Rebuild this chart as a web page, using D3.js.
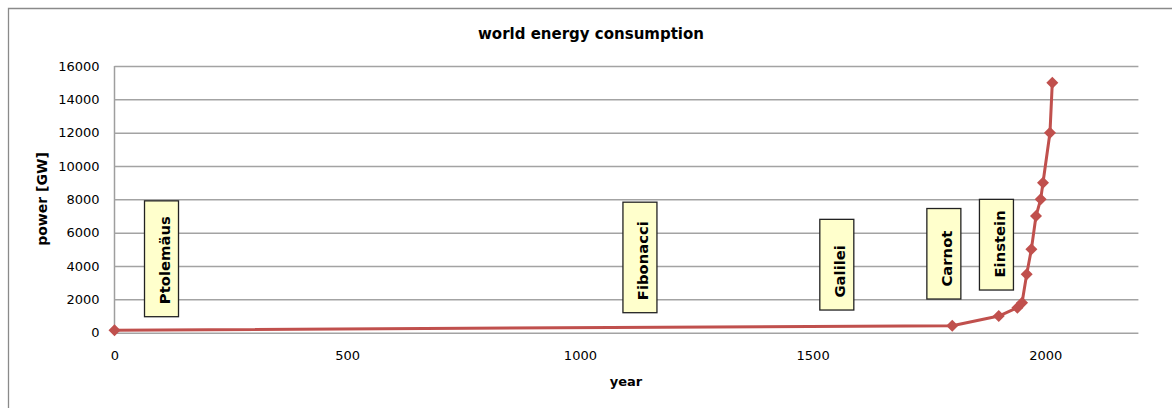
<!DOCTYPE html>
<html><head><meta charset="utf-8">
<script src="https://cdn.jsdelivr.net/npm/d3@7/dist/d3.min.js"></script>
<style>
html,body{margin:0;padding:0;background:#fff;}
svg{display:block;font-family:"DejaVu Sans",Verdana,sans-serif;}
</style></head>
<body><svg id="c" width="1172" height="408"></svg>
<script>
// data
const years  = [0, 1800, 1900, 1940, 1950, 1960, 1970, 1980, 1990, 1995, 2010, 2015];
const power  = [150, 420, 1000, 1500, 1800, 3500, 5000, 7000, 8000, 9000, 12000, 15000];
const xTicks = [0, 500, 1000, 1500, 2000];
const yTicks = [0, 2000, 4000, 6000, 8000, 10000, 12000, 14000, 16000];
const noteNames  = ["Ptolemäus", "Fibonacci", "Galilei", "Carnot", "Einstein"];
const noteYears  = [101, 1129, 1552, 1782, 1895];
const noteTop    = [7910, 7830, 6800, 7450, 8000];
const noteBottom = [960, 1200, 1360, 2020, 2560];

const svg = d3.select("#c");
const x = d3.scaleLinear().domain([0, 2200]).range([114.5, 1138.4]);
const y = d3.scaleLinear().domain([0, 16000]).range([332.7, 66]);

// outer frame
svg.append("path").attr("d","M8.5,420 L8.5,8.5 L1180,8.5")
  .attr("fill","none").attr("stroke","#8a8a8a").attr("stroke-width",1.3);

// title
svg.append("text").attr("x",591).attr("y",39).attr("text-anchor","middle")
  .attr("font-weight","bold").attr("font-size",15).attr("fill","#000").text("world energy consumption");

// gridlines
const yAxis = d3.axisLeft(y).tickValues(yTicks).tickSize(-(x.range()[1]-x.range()[0])).tickPadding(15).tickFormat(d3.format("d"));
const gy = svg.append("g").attr("transform",`translate(${x.range()[0]},0)`).call(yAxis);
gy.select(".domain").attr("stroke","#9e9e9e").attr("stroke-width",1.5).attr("d",`M0,${y(16000)}V${y(0)}`);
gy.selectAll(".tick line").attr("stroke","#a3a3a3").attr("stroke-width",1.5);
gy.selectAll(".tick text").attr("font-size",13).attr("fill","#000").attr("font-family","DejaVu Sans");

const xAxis = d3.axisBottom(x).tickValues(xTicks).tickSize(0).tickPadding(18).tickFormat(d3.format("d"));
const gx = svg.append("g").attr("transform",`translate(0,${y(0)})`).call(xAxis);
gx.select(".domain").remove();
gx.selectAll(".tick text").attr("font-size",13).attr("fill","#000").attr("font-family","DejaVu Sans");

// axis titles
svg.append("text").attr("x",626).attr("y",386).attr("text-anchor","middle")
  .attr("font-weight","bold").attr("font-size",13).text("year");
svg.append("text").attr("transform","translate(47,199) rotate(-90)").attr("text-anchor","middle")
  .attr("font-weight","bold").attr("font-size",14).text("power [GW]");

// notes
const notes = noteNames.map((n,i)=>({n, yr:noteYears[i], t:noteTop[i], b:noteBottom[i]}));
const ng = svg.append("g").selectAll("g").data(notes).join("g");
ng.append("rect")
  .attr("x",d=>x(d.yr)-17).attr("width",34)
  .attr("y",d=>y(d.t)).attr("height",d=>y(d.b)-y(d.t))
  .attr("fill","#ffffcc").attr("stroke","#222").attr("stroke-width",1.3);
ng.append("text")
  .attr("transform",d=>`translate(${x(d.yr)+8.5},${y(d.b)-12.5}) rotate(-90)`)
  .attr("font-weight","bold").attr("font-size",14.8).attr("fill","#000").text(d=>d.n);

// line
const pts = years.map((yr,i)=>[yr, power[i]]);
svg.append("path").datum(pts)
  .attr("d", d3.line().x(d=>x(d[0])).y(d=>y(d[1])))
  .attr("fill","none").attr("stroke","#c0504d").attr("stroke-width",3).attr("stroke-linejoin","round");
const r = 6;
svg.append("g").selectAll("path").data(pts).join("path")
  .attr("transform",d=>`translate(${x(d[0])},${y(d[1])})`)
  .attr("d",`M0,${-r}L${r},0L0,${r}L${-r},0Z`)
  .attr("fill","#c0504d");
</script></body></html>
